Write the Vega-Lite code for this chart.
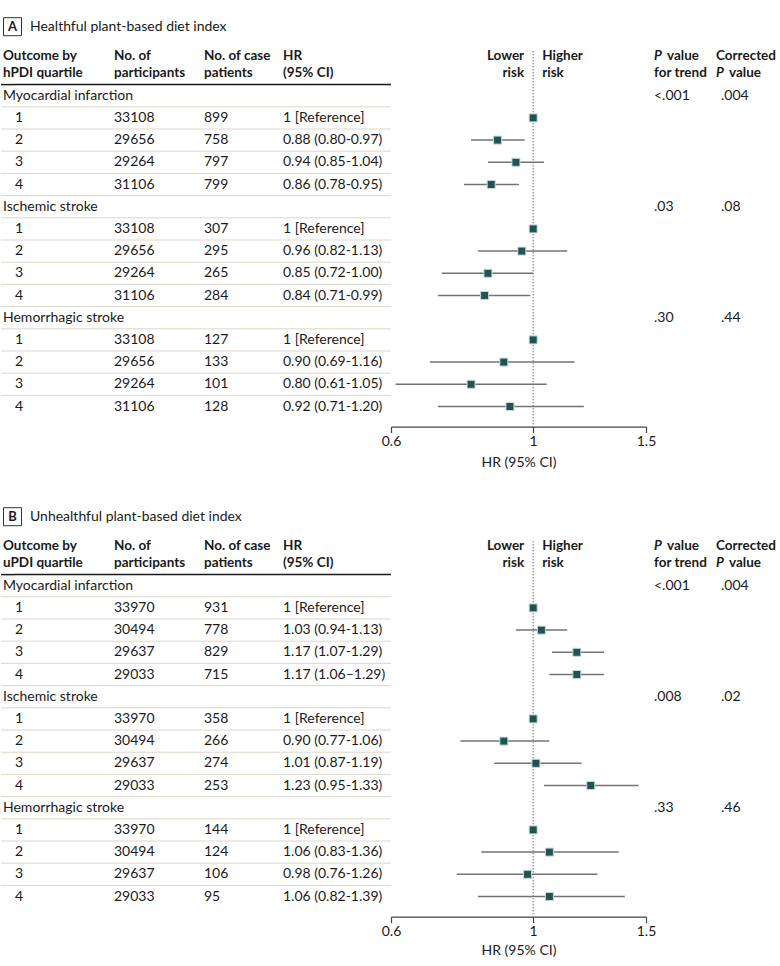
{
"$schema": "https://vega.github.io/schema/vega-lite/v6.json",
"padding": {"left": 0, "top": 15, "right": 0, "bottom": 0},
"background": "white",
"config": {"view": {"stroke": null}, "font": "Lato", "text": {"fontSize": 14, "color": "#1a1a1a", "baseline": "middle", "font": "Lato"}, "axis": {"labelFont": "Lato", "titleFont": "Lato"}},
"datasets": {
"titles": [
{"panel": "A", "row": -3, "letter": "A", "title": "Healthful plant-based diet index"},
{"panel": "B", "row": -3, "letter": "B", "title": "Unhealthful plant-based diet index"}
],
"heads": [
{"panel": "A", "row": -1, "outcome": "Outcome by\nhPDI quartile", "n": "No. of\nparticipants", "cases": "No. of case\npatients", "hr": "HR\n(95% CI)", "lower": "Lower\nrisk", "higher": "Higher\nrisk", "pItal": "P", "pWord": "value", "pLine2": "for trend", "pcLine1": "Corrected", "pcItal": "P", "pcWord": "value"},
{"panel": "B", "row": -1, "outcome": "Outcome by\nuPDI quartile", "n": "No. of\nparticipants", "cases": "No. of case\npatients", "hr": "HR\n(95% CI)", "lower": "Lower\nrisk", "higher": "Higher\nrisk", "pItal": "P", "pWord": "value", "pLine2": "for trend", "pcLine1": "Corrected", "pcItal": "P", "pcWord": "value"}
],
"body": [
{"panel": "A", "row": 0, "label": "Myocardial infarction", "p": "<.001", "pc": ".004"},
{"panel": "A", "row": 1, "q": "1", "n": "33108", "cases": "899", "hrtxt": "1 [Reference]", "hr": 1},
{"panel": "A", "row": 2, "q": "2", "n": "29656", "cases": "758", "hrtxt": "0.88 (0.80-0.97)", "hr": 0.88, "lo": 0.80, "hi": 0.97},
{"panel": "A", "row": 3, "q": "3", "n": "29264", "cases": "797", "hrtxt": "0.94 (0.85-1.04)", "hr": 0.94, "lo": 0.85, "hi": 1.04},
{"panel": "A", "row": 4, "q": "4", "n": "31106", "cases": "799", "hrtxt": "0.86 (0.78-0.95)", "hr": 0.86, "lo": 0.78, "hi": 0.95},
{"panel": "A", "row": 5, "label": "Ischemic stroke", "p": ".03", "pc": ".08"},
{"panel": "A", "row": 6, "q": "1", "n": "33108", "cases": "307", "hrtxt": "1 [Reference]", "hr": 1},
{"panel": "A", "row": 7, "q": "2", "n": "29656", "cases": "295", "hrtxt": "0.96 (0.82-1.13)", "hr": 0.96, "lo": 0.82, "hi": 1.13},
{"panel": "A", "row": 8, "q": "3", "n": "29264", "cases": "265", "hrtxt": "0.85 (0.72-1.00)", "hr": 0.85, "lo": 0.72, "hi": 1.00},
{"panel": "A", "row": 9, "q": "4", "n": "31106", "cases": "284", "hrtxt": "0.84 (0.71-0.99)", "hr": 0.84, "lo": 0.71, "hi": 0.99},
{"panel": "A", "row": 10, "label": "Hemorrhagic stroke", "p": ".30", "pc": ".44"},
{"panel": "A", "row": 11, "q": "1", "n": "33108", "cases": "127", "hrtxt": "1 [Reference]", "hr": 1},
{"panel": "A", "row": 12, "q": "2", "n": "29656", "cases": "133", "hrtxt": "0.90 (0.69-1.16)", "hr": 0.90, "lo": 0.69, "hi": 1.16},
{"panel": "A", "row": 13, "q": "3", "n": "29264", "cases": "101", "hrtxt": "0.80 (0.61-1.05)", "hr": 0.80, "lo": 0.61, "hi": 1.05},
{"panel": "A", "row": 14, "q": "4", "n": "31106", "cases": "128", "hrtxt": "0.92 (0.71-1.20)", "hr": 0.92, "lo": 0.71, "hi": 1.20},
{"panel": "B", "row": 0, "label": "Myocardial infarction", "p": "<.001", "pc": ".004"},
{"panel": "B", "row": 1, "q": "1", "n": "33970", "cases": "931", "hrtxt": "1 [Reference]", "hr": 1},
{"panel": "B", "row": 2, "q": "2", "n": "30494", "cases": "778", "hrtxt": "1.03 (0.94-1.13)", "hr": 1.03, "lo": 0.94, "hi": 1.13},
{"panel": "B", "row": 3, "q": "3", "n": "29637", "cases": "829", "hrtxt": "1.17 (1.07-1.29)", "hr": 1.17, "lo": 1.07, "hi": 1.29},
{"panel": "B", "row": 4, "q": "4", "n": "29033", "cases": "715", "hrtxt": "1.17 (1.06–1.29)", "hr": 1.17, "lo": 1.06, "hi": 1.29},
{"panel": "B", "row": 5, "label": "Ischemic stroke", "p": ".008", "pc": ".02"},
{"panel": "B", "row": 6, "q": "1", "n": "33970", "cases": "358", "hrtxt": "1 [Reference]", "hr": 1},
{"panel": "B", "row": 7, "q": "2", "n": "30494", "cases": "266", "hrtxt": "0.90 (0.77-1.06)", "hr": 0.90, "lo": 0.77, "hi": 1.06},
{"panel": "B", "row": 8, "q": "3", "n": "29637", "cases": "274", "hrtxt": "1.01 (0.87-1.19)", "hr": 1.01, "lo": 0.87, "hi": 1.19},
{"panel": "B", "row": 9, "q": "4", "n": "29033", "cases": "253", "hrtxt": "1.23 (0.95-1.33)", "hr": 1.23, "lo": 1.04, "hi": 1.46},
{"panel": "B", "row": 10, "label": "Hemorrhagic stroke", "p": ".33", "pc": ".46"},
{"panel": "B", "row": 11, "q": "1", "n": "33970", "cases": "144", "hrtxt": "1 [Reference]", "hr": 1},
{"panel": "B", "row": 12, "q": "2", "n": "30494", "cases": "124", "hrtxt": "1.06 (0.83-1.36)", "hr": 1.06, "lo": 0.83, "hi": 1.36},
{"panel": "B", "row": 13, "q": "3", "n": "29637", "cases": "106", "hrtxt": "0.98 (0.76-1.26)", "hr": 0.98, "lo": 0.76, "hi": 1.26},
{"panel": "B", "row": 14, "q": "4", "n": "29033", "cases": "95", "hrtxt": "1.06 (0.82-1.39)", "hr": 1.06, "lo": 0.82, "hi": 1.39}
]
},
"spacing": 35,
"vconcat": [
{"bounds": "flush", "spacing": 0, "hconcat": [
{"width": 14, "height": 408.6,
 "encoding": {"y": {"field": "row", "type": "ordinal", "axis": null, "scale": {"type": "band", "domain": [-3,-2,-1,0,1,2,3,4,5,6,7,8,9,10,11,12,13,14], "range": [0, 399.6], "paddingInner": 0, "paddingOuter": 0}}},
 "layer": [
  {"data": {"name": "titles"}, "transform": [{"filter": "datum.panel == 'A'"}], "mark": {"type": "point", "shape": "square", "size": 324, "filled": false, "stroke": "#333333", "strokeWidth": 1, "opacity": 1, "xOffset": 11.5, "yOffset": -2.4}, "encoding": {"x": {"datum": 0, "type": "quantitative", "scale": {"domain": [0, 1]}, "axis": null}}},
  {"data": {"name": "titles"}, "transform": [{"filter": "datum.panel == 'A'"}], "mark": {"type": "text", "align": "center", "dx": 11.5, "dy": -2.4, "fontWeight": "bold", "fontSize": 13}, "encoding": {"x": {"datum": 0, "type": "quantitative", "scale": {"domain": [0, 1]}, "axis": null}, "text": {"field": "letter"}}},
  {"data": {"name": "titles"}, "transform": [{"filter": "datum.panel == 'A'"}], "mark": {"type": "text", "align": "left", "dx": 29, "dy": -2.4, "fontSize": 14}, "encoding": {"x": {"datum": 0, "type": "quantitative", "scale": {"domain": [0, 1]}, "axis": null}, "text": {"field": "title"}}},
  {"data": {"name": "heads"}, "transform": [{"filter": "datum.panel == 'A'"}], "mark": {"type": "text", "align": "left", "dx": 2, "dy": -17.8, "fontWeight": "bold", "fontSize": 13.5, "lineBreak": "\n", "lineHeight": 17}, "encoding": {"x": {"datum": 0, "type": "quantitative", "scale": {"domain": [0, 1]}, "axis": null}, "text": {"field": "outcome"}}},
  {"data": {"name": "heads"}, "transform": [{"filter": "datum.panel == 'A'"}], "mark": {"type": "rule", "color": "#1a1a1a", "strokeWidth": 1.5}, "encoding": {"y": {"field": "row", "type": "ordinal", "bandPosition": 1, "axis": null}}},
  {"data": {"name": "body"}, "transform": [{"filter": "datum.panel == 'A' && datum.row < 14"}], "mark": {"type": "rule", "color": "#dcd7c9", "strokeWidth": 1}, "encoding": {"y": {"field": "row", "type": "ordinal", "bandPosition": 1, "axis": null}}},
  {"data": {"name": "body"}, "transform": [{"filter": "datum.panel == 'A' && isValid(datum.label)"}], "mark": {"type": "text", "align": "left", "dx": 2}, "encoding": {"x": {"datum": 0, "type": "quantitative", "scale": {"domain": [0, 1]}, "axis": null}, "text": {"field": "label"}}}
 ]},
{"width": 99, "height": 408.6,
 "encoding": {"y": {"field": "row", "type": "ordinal", "axis": null, "scale": {"type": "band", "domain": [-3,-2,-1,0,1,2,3,4,5,6,7,8,9,10,11,12,13,14], "range": [0, 399.6], "paddingInner": 0, "paddingOuter": 0}}},
 "layer": [
  {"data": {"name": "heads"}, "transform": [{"filter": "datum.panel == 'A'"}], "mark": {"type": "rule", "color": "#1a1a1a", "strokeWidth": 1.5}, "encoding": {"y": {"field": "row", "type": "ordinal", "bandPosition": 1, "axis": null}}},
  {"data": {"name": "body"}, "transform": [{"filter": "datum.panel == 'A' && datum.row < 14"}], "mark": {"type": "rule", "color": "#dcd7c9", "strokeWidth": 1}, "encoding": {"y": {"field": "row", "type": "ordinal", "bandPosition": 1, "axis": null}}},
  {"data": {"name": "body"}, "transform": [{"filter": "datum.panel == 'A' && isValid(datum.q)"}], "mark": {"type": "text", "align": "left"}, "encoding": {"x": {"datum": 0, "type": "quantitative", "scale": {"domain": [0, 1]}, "axis": null}, "text": {"field": "q"}}}
 ]},
{"width": 90, "height": 408.6,
 "encoding": {"y": {"field": "row", "type": "ordinal", "axis": null, "scale": {"type": "band", "domain": [-3,-2,-1,0,1,2,3,4,5,6,7,8,9,10,11,12,13,14], "range": [0, 399.6], "paddingInner": 0, "paddingOuter": 0}}},
 "layer": [
  {"data": {"name": "heads"}, "transform": [{"filter": "datum.panel == 'A'"}], "mark": {"type": "text", "align": "left", "dy": -17.8, "fontWeight": "bold", "fontSize": 13.5, "lineBreak": "\n", "lineHeight": 17}, "encoding": {"x": {"datum": 0, "type": "quantitative", "scale": {"domain": [0, 1]}, "axis": null}, "text": {"field": "n"}}},
  {"data": {"name": "heads"}, "transform": [{"filter": "datum.panel == 'A'"}], "mark": {"type": "rule", "color": "#1a1a1a", "strokeWidth": 1.5}, "encoding": {"y": {"field": "row", "type": "ordinal", "bandPosition": 1, "axis": null}}},
  {"data": {"name": "body"}, "transform": [{"filter": "datum.panel == 'A' && datum.row < 14"}], "mark": {"type": "rule", "color": "#dcd7c9", "strokeWidth": 1}, "encoding": {"y": {"field": "row", "type": "ordinal", "bandPosition": 1, "axis": null}}},
  {"data": {"name": "body"}, "transform": [{"filter": "datum.panel == 'A' && isValid(datum.n)"}], "mark": {"type": "text", "align": "left"}, "encoding": {"x": {"datum": 0, "type": "quantitative", "scale": {"domain": [0, 1]}, "axis": null}, "text": {"field": "n"}}}
 ]},
{"width": 79, "height": 408.6,
 "encoding": {"y": {"field": "row", "type": "ordinal", "axis": null, "scale": {"type": "band", "domain": [-3,-2,-1,0,1,2,3,4,5,6,7,8,9,10,11,12,13,14], "range": [0, 399.6], "paddingInner": 0, "paddingOuter": 0}}},
 "layer": [
  {"data": {"name": "heads"}, "transform": [{"filter": "datum.panel == 'A'"}], "mark": {"type": "text", "align": "left", "dy": -17.8, "fontWeight": "bold", "fontSize": 13.5, "lineBreak": "\n", "lineHeight": 17}, "encoding": {"x": {"datum": 0, "type": "quantitative", "scale": {"domain": [0, 1]}, "axis": null}, "text": {"field": "cases"}}},
  {"data": {"name": "heads"}, "transform": [{"filter": "datum.panel == 'A'"}], "mark": {"type": "rule", "color": "#1a1a1a", "strokeWidth": 1.5}, "encoding": {"y": {"field": "row", "type": "ordinal", "bandPosition": 1, "axis": null}}},
  {"data": {"name": "body"}, "transform": [{"filter": "datum.panel == 'A' && datum.row < 14"}], "mark": {"type": "rule", "color": "#dcd7c9", "strokeWidth": 1}, "encoding": {"y": {"field": "row", "type": "ordinal", "bandPosition": 1, "axis": null}}},
  {"data": {"name": "body"}, "transform": [{"filter": "datum.panel == 'A' && isValid(datum.cases)"}], "mark": {"type": "text", "align": "left"}, "encoding": {"x": {"datum": 0, "type": "quantitative", "scale": {"domain": [0, 1]}, "axis": null}, "text": {"field": "cases"}}}
 ]},
{"width": 108, "height": 408.6,
 "encoding": {"y": {"field": "row", "type": "ordinal", "axis": null, "scale": {"type": "band", "domain": [-3,-2,-1,0,1,2,3,4,5,6,7,8,9,10,11,12,13,14], "range": [0, 399.6], "paddingInner": 0, "paddingOuter": 0}}},
 "layer": [
  {"data": {"name": "heads"}, "transform": [{"filter": "datum.panel == 'A'"}], "mark": {"type": "text", "align": "left", "dy": -17.8, "fontWeight": "bold", "fontSize": 13.5, "lineBreak": "\n", "lineHeight": 17}, "encoding": {"x": {"datum": 0, "type": "quantitative", "scale": {"domain": [0, 1]}, "axis": null}, "text": {"field": "hr"}}},
  {"data": {"name": "heads"}, "transform": [{"filter": "datum.panel == 'A'"}], "mark": {"type": "rule", "color": "#1a1a1a", "strokeWidth": 1.5}, "encoding": {"y": {"field": "row", "type": "ordinal", "bandPosition": 1, "axis": null}}},
  {"data": {"name": "body"}, "transform": [{"filter": "datum.panel == 'A' && datum.row < 14"}], "mark": {"type": "rule", "color": "#dcd7c9", "strokeWidth": 1}, "encoding": {"y": {"field": "row", "type": "ordinal", "bandPosition": 1, "axis": null}}},
  {"data": {"name": "body"}, "transform": [{"filter": "datum.panel == 'A' && isValid(datum.hrtxt)"}], "mark": {"type": "text", "align": "left"}, "encoding": {"x": {"datum": 0, "type": "quantitative", "scale": {"domain": [0, 1]}, "axis": null}, "text": {"field": "hrtxt"}}}
 ]},
{"width": 255, "height": 408.6,
 "encoding": {"y": {"field": "row", "type": "ordinal", "axis": null, "scale": {"type": "band", "domain": [-3,-2,-1,0,1,2,3,4,5,6,7,8,9,10,11,12,13,14], "range": [0, 399.6], "paddingInner": 0, "paddingOuter": 0}}},
 "layer": [
  {"data": {"name": "heads"}, "transform": [{"filter": "datum.panel == 'A'"}], "mark": {"type": "text", "align": "right", "dx": -9, "dy": -17.8, "fontWeight": "bold", "fontSize": 13.5, "lineBreak": "\n", "lineHeight": 17}, "encoding": {"x": {"datum": 1, "type": "quantitative", "scale": {"type": "log", "domain": [0.6, 1.5], "nice": false, "zero": false}, "axis": {"values": [0.6, 1, 1.5], "format": "~g", "title": "HR (95% CI)", "grid": false, "domainColor": "#444444", "domainWidth": 1.2, "tickColor": "#444444", "tickSize": 6, "tickWidth": 1.2, "labelFontSize": 14, "titleFontSize": 14, "titleFontWeight": "normal", "labelColor": "#1a1a1a", "titleColor": "#1a1a1a", "labelPadding": 2, "titlePadding": 7, "labelFlush": false, "labelOverlap": false}}, "text": {"field": "lower"}}},
  {"data": {"name": "heads"}, "transform": [{"filter": "datum.panel == 'A'"}], "mark": {"type": "text", "align": "left", "dx": 9, "dy": -17.8, "fontWeight": "bold", "fontSize": 13.5, "lineBreak": "\n", "lineHeight": 17}, "encoding": {"x": {"datum": 1, "type": "quantitative"}, "text": {"field": "higher"}}},
  {"data": {"name": "heads"}, "transform": [{"filter": "datum.panel == 'A'"}], "mark": {"type": "rule", "color": "#333333", "strokeWidth": 1, "strokeDash": [1, 2]}, "encoding": {"x": {"datum": 1, "type": "quantitative"}, "y": {"datum": -2, "type": "ordinal"}, "y2": {"value": "height"}}},
  {"data": {"name": "body"}, "transform": [{"filter": "datum.panel == 'A' && isValid(datum.lo)"}], "mark": {"type": "rule", "color": "#737373", "strokeWidth": 1.5}, "encoding": {"x": {"field": "lo", "type": "quantitative"}, "x2": {"field": "hi"}}},
  {"data": {"name": "body"}, "transform": [{"filter": "datum.panel == 'A' && isValid(datum.hr)"}], "mark": {"type": "point", "shape": "square", "filled": true, "size": 64, "color": "#1f5451", "stroke": "#c9d8d5", "strokeWidth": 1, "opacity": 1}, "encoding": {"x": {"field": "hr", "type": "quantitative"}}}
 ]},
{"width": 75, "height": 408.6,
 "encoding": {"y": {"field": "row", "type": "ordinal", "axis": null, "scale": {"type": "band", "domain": [-3,-2,-1,0,1,2,3,4,5,6,7,8,9,10,11,12,13,14], "range": [0, 399.6], "paddingInner": 0, "paddingOuter": 0}}},
 "layer": [
  {"data": {"name": "heads"}, "transform": [{"filter": "datum.panel == 'A'"}], "mark": {"type": "text", "align": "left", "dx": 8, "dy": -17.8, "fontWeight": "bold", "fontSize": 13.5, "fontStyle": "italic"}, "encoding": {"x": {"datum": 0, "type": "quantitative", "scale": {"domain": [0, 1]}, "axis": null}, "text": {"field": "pItal"}}},
  {"data": {"name": "heads"}, "transform": [{"filter": "datum.panel == 'A'"}], "mark": {"type": "text", "align": "left", "dx": 21, "dy": -17.8, "fontWeight": "bold", "fontSize": 13.5}, "encoding": {"x": {"datum": 0, "type": "quantitative", "scale": {"domain": [0, 1]}, "axis": null}, "text": {"field": "pWord"}}},
  {"data": {"name": "heads"}, "transform": [{"filter": "datum.panel == 'A'"}], "mark": {"type": "text", "align": "left", "dx": 8, "dy": -0.8, "fontWeight": "bold", "fontSize": 13.5}, "encoding": {"x": {"datum": 0, "type": "quantitative", "scale": {"domain": [0, 1]}, "axis": null}, "text": {"field": "pLine2"}}},
  {"data": {"name": "body"}, "transform": [{"filter": "datum.panel == 'A' && isValid(datum.p)"}], "mark": {"type": "text", "align": "left", "dx": 8}, "encoding": {"x": {"datum": 0, "type": "quantitative", "scale": {"domain": [0, 1]}, "axis": null}, "text": {"field": "p"}}}
 ]},
{"width": 60, "height": 408.6,
 "encoding": {"y": {"field": "row", "type": "ordinal", "axis": null, "scale": {"type": "band", "domain": [-3,-2,-1,0,1,2,3,4,5,6,7,8,9,10,11,12,13,14], "range": [0, 399.6], "paddingInner": 0, "paddingOuter": 0}}},
 "layer": [
  {"data": {"name": "heads"}, "transform": [{"filter": "datum.panel == 'A'"}], "mark": {"type": "text", "align": "left", "dx": -5, "dy": -17.8, "fontWeight": "bold", "fontSize": 13.5}, "encoding": {"x": {"datum": 0, "type": "quantitative", "scale": {"domain": [0, 1]}, "axis": null}, "text": {"field": "pcLine1"}}},
  {"data": {"name": "heads"}, "transform": [{"filter": "datum.panel == 'A'"}], "mark": {"type": "text", "align": "left", "dx": -5, "dy": -0.8, "fontWeight": "bold", "fontSize": 13.5, "fontStyle": "italic"}, "encoding": {"x": {"datum": 0, "type": "quantitative", "scale": {"domain": [0, 1]}, "axis": null}, "text": {"field": "pcItal"}}},
  {"data": {"name": "heads"}, "transform": [{"filter": "datum.panel == 'A'"}], "mark": {"type": "text", "align": "left", "dx": 8, "dy": -0.8, "fontWeight": "bold", "fontSize": 13.5}, "encoding": {"x": {"datum": 0, "type": "quantitative", "scale": {"domain": [0, 1]}, "axis": null}, "text": {"field": "pcWord"}}},
  {"data": {"name": "body"}, "transform": [{"filter": "datum.panel == 'A' && isValid(datum.pc)"}], "mark": {"type": "text", "align": "left"}, "encoding": {"x": {"datum": 0, "type": "quantitative", "scale": {"domain": [0, 1]}, "axis": null}, "text": {"field": "pc"}}}
 ]}
]},
{"bounds": "flush", "spacing": 0, "hconcat": [
{"width": 14, "height": 408.6,
 "encoding": {"y": {"field": "row", "type": "ordinal", "axis": null, "scale": {"type": "band", "domain": [-3,-2,-1,0,1,2,3,4,5,6,7,8,9,10,11,12,13,14], "range": [0, 399.6], "paddingInner": 0, "paddingOuter": 0}}},
 "layer": [
  {"data": {"name": "titles"}, "transform": [{"filter": "datum.panel == 'B'"}], "mark": {"type": "point", "shape": "square", "size": 324, "filled": false, "stroke": "#333333", "strokeWidth": 1, "opacity": 1, "xOffset": 11.5, "yOffset": -2.4}, "encoding": {"x": {"datum": 0, "type": "quantitative", "scale": {"domain": [0, 1]}, "axis": null}}},
  {"data": {"name": "titles"}, "transform": [{"filter": "datum.panel == 'B'"}], "mark": {"type": "text", "align": "center", "dx": 11.5, "dy": -2.4, "fontWeight": "bold", "fontSize": 13}, "encoding": {"x": {"datum": 0, "type": "quantitative", "scale": {"domain": [0, 1]}, "axis": null}, "text": {"field": "letter"}}},
  {"data": {"name": "titles"}, "transform": [{"filter": "datum.panel == 'B'"}], "mark": {"type": "text", "align": "left", "dx": 29, "dy": -2.4, "fontSize": 14}, "encoding": {"x": {"datum": 0, "type": "quantitative", "scale": {"domain": [0, 1]}, "axis": null}, "text": {"field": "title"}}},
  {"data": {"name": "heads"}, "transform": [{"filter": "datum.panel == 'B'"}], "mark": {"type": "text", "align": "left", "dx": 2, "dy": -17.8, "fontWeight": "bold", "fontSize": 13.5, "lineBreak": "\n", "lineHeight": 17}, "encoding": {"x": {"datum": 0, "type": "quantitative", "scale": {"domain": [0, 1]}, "axis": null}, "text": {"field": "outcome"}}},
  {"data": {"name": "heads"}, "transform": [{"filter": "datum.panel == 'B'"}], "mark": {"type": "rule", "color": "#1a1a1a", "strokeWidth": 1.5}, "encoding": {"y": {"field": "row", "type": "ordinal", "bandPosition": 1, "axis": null}}},
  {"data": {"name": "body"}, "transform": [{"filter": "datum.panel == 'B' && datum.row < 14"}], "mark": {"type": "rule", "color": "#dcd7c9", "strokeWidth": 1}, "encoding": {"y": {"field": "row", "type": "ordinal", "bandPosition": 1, "axis": null}}},
  {"data": {"name": "body"}, "transform": [{"filter": "datum.panel == 'B' && isValid(datum.label)"}], "mark": {"type": "text", "align": "left", "dx": 2}, "encoding": {"x": {"datum": 0, "type": "quantitative", "scale": {"domain": [0, 1]}, "axis": null}, "text": {"field": "label"}}}
 ]},
{"width": 99, "height": 408.6,
 "encoding": {"y": {"field": "row", "type": "ordinal", "axis": null, "scale": {"type": "band", "domain": [-3,-2,-1,0,1,2,3,4,5,6,7,8,9,10,11,12,13,14], "range": [0, 399.6], "paddingInner": 0, "paddingOuter": 0}}},
 "layer": [
  {"data": {"name": "heads"}, "transform": [{"filter": "datum.panel == 'B'"}], "mark": {"type": "rule", "color": "#1a1a1a", "strokeWidth": 1.5}, "encoding": {"y": {"field": "row", "type": "ordinal", "bandPosition": 1, "axis": null}}},
  {"data": {"name": "body"}, "transform": [{"filter": "datum.panel == 'B' && datum.row < 14"}], "mark": {"type": "rule", "color": "#dcd7c9", "strokeWidth": 1}, "encoding": {"y": {"field": "row", "type": "ordinal", "bandPosition": 1, "axis": null}}},
  {"data": {"name": "body"}, "transform": [{"filter": "datum.panel == 'B' && isValid(datum.q)"}], "mark": {"type": "text", "align": "left"}, "encoding": {"x": {"datum": 0, "type": "quantitative", "scale": {"domain": [0, 1]}, "axis": null}, "text": {"field": "q"}}}
 ]},
{"width": 90, "height": 408.6,
 "encoding": {"y": {"field": "row", "type": "ordinal", "axis": null, "scale": {"type": "band", "domain": [-3,-2,-1,0,1,2,3,4,5,6,7,8,9,10,11,12,13,14], "range": [0, 399.6], "paddingInner": 0, "paddingOuter": 0}}},
 "layer": [
  {"data": {"name": "heads"}, "transform": [{"filter": "datum.panel == 'B'"}], "mark": {"type": "text", "align": "left", "dy": -17.8, "fontWeight": "bold", "fontSize": 13.5, "lineBreak": "\n", "lineHeight": 17}, "encoding": {"x": {"datum": 0, "type": "quantitative", "scale": {"domain": [0, 1]}, "axis": null}, "text": {"field": "n"}}},
  {"data": {"name": "heads"}, "transform": [{"filter": "datum.panel == 'B'"}], "mark": {"type": "rule", "color": "#1a1a1a", "strokeWidth": 1.5}, "encoding": {"y": {"field": "row", "type": "ordinal", "bandPosition": 1, "axis": null}}},
  {"data": {"name": "body"}, "transform": [{"filter": "datum.panel == 'B' && datum.row < 14"}], "mark": {"type": "rule", "color": "#dcd7c9", "strokeWidth": 1}, "encoding": {"y": {"field": "row", "type": "ordinal", "bandPosition": 1, "axis": null}}},
  {"data": {"name": "body"}, "transform": [{"filter": "datum.panel == 'B' && isValid(datum.n)"}], "mark": {"type": "text", "align": "left"}, "encoding": {"x": {"datum": 0, "type": "quantitative", "scale": {"domain": [0, 1]}, "axis": null}, "text": {"field": "n"}}}
 ]},
{"width": 79, "height": 408.6,
 "encoding": {"y": {"field": "row", "type": "ordinal", "axis": null, "scale": {"type": "band", "domain": [-3,-2,-1,0,1,2,3,4,5,6,7,8,9,10,11,12,13,14], "range": [0, 399.6], "paddingInner": 0, "paddingOuter": 0}}},
 "layer": [
  {"data": {"name": "heads"}, "transform": [{"filter": "datum.panel == 'B'"}], "mark": {"type": "text", "align": "left", "dy": -17.8, "fontWeight": "bold", "fontSize": 13.5, "lineBreak": "\n", "lineHeight": 17}, "encoding": {"x": {"datum": 0, "type": "quantitative", "scale": {"domain": [0, 1]}, "axis": null}, "text": {"field": "cases"}}},
  {"data": {"name": "heads"}, "transform": [{"filter": "datum.panel == 'B'"}], "mark": {"type": "rule", "color": "#1a1a1a", "strokeWidth": 1.5}, "encoding": {"y": {"field": "row", "type": "ordinal", "bandPosition": 1, "axis": null}}},
  {"data": {"name": "body"}, "transform": [{"filter": "datum.panel == 'B' && datum.row < 14"}], "mark": {"type": "rule", "color": "#dcd7c9", "strokeWidth": 1}, "encoding": {"y": {"field": "row", "type": "ordinal", "bandPosition": 1, "axis": null}}},
  {"data": {"name": "body"}, "transform": [{"filter": "datum.panel == 'B' && isValid(datum.cases)"}], "mark": {"type": "text", "align": "left"}, "encoding": {"x": {"datum": 0, "type": "quantitative", "scale": {"domain": [0, 1]}, "axis": null}, "text": {"field": "cases"}}}
 ]},
{"width": 108, "height": 408.6,
 "encoding": {"y": {"field": "row", "type": "ordinal", "axis": null, "scale": {"type": "band", "domain": [-3,-2,-1,0,1,2,3,4,5,6,7,8,9,10,11,12,13,14], "range": [0, 399.6], "paddingInner": 0, "paddingOuter": 0}}},
 "layer": [
  {"data": {"name": "heads"}, "transform": [{"filter": "datum.panel == 'B'"}], "mark": {"type": "text", "align": "left", "dy": -17.8, "fontWeight": "bold", "fontSize": 13.5, "lineBreak": "\n", "lineHeight": 17}, "encoding": {"x": {"datum": 0, "type": "quantitative", "scale": {"domain": [0, 1]}, "axis": null}, "text": {"field": "hr"}}},
  {"data": {"name": "heads"}, "transform": [{"filter": "datum.panel == 'B'"}], "mark": {"type": "rule", "color": "#1a1a1a", "strokeWidth": 1.5}, "encoding": {"y": {"field": "row", "type": "ordinal", "bandPosition": 1, "axis": null}}},
  {"data": {"name": "body"}, "transform": [{"filter": "datum.panel == 'B' && datum.row < 14"}], "mark": {"type": "rule", "color": "#dcd7c9", "strokeWidth": 1}, "encoding": {"y": {"field": "row", "type": "ordinal", "bandPosition": 1, "axis": null}}},
  {"data": {"name": "body"}, "transform": [{"filter": "datum.panel == 'B' && isValid(datum.hrtxt)"}], "mark": {"type": "text", "align": "left"}, "encoding": {"x": {"datum": 0, "type": "quantitative", "scale": {"domain": [0, 1]}, "axis": null}, "text": {"field": "hrtxt"}}}
 ]},
{"width": 255, "height": 408.6,
 "encoding": {"y": {"field": "row", "type": "ordinal", "axis": null, "scale": {"type": "band", "domain": [-3,-2,-1,0,1,2,3,4,5,6,7,8,9,10,11,12,13,14], "range": [0, 399.6], "paddingInner": 0, "paddingOuter": 0}}},
 "layer": [
  {"data": {"name": "heads"}, "transform": [{"filter": "datum.panel == 'B'"}], "mark": {"type": "text", "align": "right", "dx": -9, "dy": -17.8, "fontWeight": "bold", "fontSize": 13.5, "lineBreak": "\n", "lineHeight": 17}, "encoding": {"x": {"datum": 1, "type": "quantitative", "scale": {"type": "log", "domain": [0.6, 1.5], "nice": false, "zero": false}, "axis": {"values": [0.6, 1, 1.5], "format": "~g", "title": "HR (95% CI)", "grid": false, "domainColor": "#444444", "domainWidth": 1.2, "tickColor": "#444444", "tickSize": 6, "tickWidth": 1.2, "labelFontSize": 14, "titleFontSize": 14, "titleFontWeight": "normal", "labelColor": "#1a1a1a", "titleColor": "#1a1a1a", "labelPadding": 2, "titlePadding": 5, "labelFlush": false, "labelOverlap": false}}, "text": {"field": "lower"}}},
  {"data": {"name": "heads"}, "transform": [{"filter": "datum.panel == 'B'"}], "mark": {"type": "text", "align": "left", "dx": 9, "dy": -17.8, "fontWeight": "bold", "fontSize": 13.5, "lineBreak": "\n", "lineHeight": 17}, "encoding": {"x": {"datum": 1, "type": "quantitative"}, "text": {"field": "higher"}}},
  {"data": {"name": "heads"}, "transform": [{"filter": "datum.panel == 'B'"}], "mark": {"type": "rule", "color": "#333333", "strokeWidth": 1, "strokeDash": [1, 2]}, "encoding": {"x": {"datum": 1, "type": "quantitative"}, "y": {"datum": -2, "type": "ordinal"}, "y2": {"value": "height"}}},
  {"data": {"name": "body"}, "transform": [{"filter": "datum.panel == 'B' && isValid(datum.lo)"}], "mark": {"type": "rule", "color": "#737373", "strokeWidth": 1.5}, "encoding": {"x": {"field": "lo", "type": "quantitative"}, "x2": {"field": "hi"}}},
  {"data": {"name": "body"}, "transform": [{"filter": "datum.panel == 'B' && isValid(datum.hr)"}], "mark": {"type": "point", "shape": "square", "filled": true, "size": 64, "color": "#1f5451", "stroke": "#c9d8d5", "strokeWidth": 1, "opacity": 1}, "encoding": {"x": {"field": "hr", "type": "quantitative"}}}
 ]},
{"width": 75, "height": 408.6,
 "encoding": {"y": {"field": "row", "type": "ordinal", "axis": null, "scale": {"type": "band", "domain": [-3,-2,-1,0,1,2,3,4,5,6,7,8,9,10,11,12,13,14], "range": [0, 399.6], "paddingInner": 0, "paddingOuter": 0}}},
 "layer": [
  {"data": {"name": "heads"}, "transform": [{"filter": "datum.panel == 'B'"}], "mark": {"type": "text", "align": "left", "dx": 8, "dy": -17.8, "fontWeight": "bold", "fontSize": 13.5, "fontStyle": "italic"}, "encoding": {"x": {"datum": 0, "type": "quantitative", "scale": {"domain": [0, 1]}, "axis": null}, "text": {"field": "pItal"}}},
  {"data": {"name": "heads"}, "transform": [{"filter": "datum.panel == 'B'"}], "mark": {"type": "text", "align": "left", "dx": 21, "dy": -17.8, "fontWeight": "bold", "fontSize": 13.5}, "encoding": {"x": {"datum": 0, "type": "quantitative", "scale": {"domain": [0, 1]}, "axis": null}, "text": {"field": "pWord"}}},
  {"data": {"name": "heads"}, "transform": [{"filter": "datum.panel == 'B'"}], "mark": {"type": "text", "align": "left", "dx": 8, "dy": -0.8, "fontWeight": "bold", "fontSize": 13.5}, "encoding": {"x": {"datum": 0, "type": "quantitative", "scale": {"domain": [0, 1]}, "axis": null}, "text": {"field": "pLine2"}}},
  {"data": {"name": "body"}, "transform": [{"filter": "datum.panel == 'B' && isValid(datum.p)"}], "mark": {"type": "text", "align": "left", "dx": 8}, "encoding": {"x": {"datum": 0, "type": "quantitative", "scale": {"domain": [0, 1]}, "axis": null}, "text": {"field": "p"}}}
 ]},
{"width": 60, "height": 408.6,
 "encoding": {"y": {"field": "row", "type": "ordinal", "axis": null, "scale": {"type": "band", "domain": [-3,-2,-1,0,1,2,3,4,5,6,7,8,9,10,11,12,13,14], "range": [0, 399.6], "paddingInner": 0, "paddingOuter": 0}}},
 "layer": [
  {"data": {"name": "heads"}, "transform": [{"filter": "datum.panel == 'B'"}], "mark": {"type": "text", "align": "left", "dx": -5, "dy": -17.8, "fontWeight": "bold", "fontSize": 13.5}, "encoding": {"x": {"datum": 0, "type": "quantitative", "scale": {"domain": [0, 1]}, "axis": null}, "text": {"field": "pcLine1"}}},
  {"data": {"name": "heads"}, "transform": [{"filter": "datum.panel == 'B'"}], "mark": {"type": "text", "align": "left", "dx": -5, "dy": -0.8, "fontWeight": "bold", "fontSize": 13.5, "fontStyle": "italic"}, "encoding": {"x": {"datum": 0, "type": "quantitative", "scale": {"domain": [0, 1]}, "axis": null}, "text": {"field": "pcItal"}}},
  {"data": {"name": "heads"}, "transform": [{"filter": "datum.panel == 'B'"}], "mark": {"type": "text", "align": "left", "dx": 8, "dy": -0.8, "fontWeight": "bold", "fontSize": 13.5}, "encoding": {"x": {"datum": 0, "type": "quantitative", "scale": {"domain": [0, 1]}, "axis": null}, "text": {"field": "pcWord"}}},
  {"data": {"name": "body"}, "transform": [{"filter": "datum.panel == 'B' && isValid(datum.pc)"}], "mark": {"type": "text", "align": "left"}, "encoding": {"x": {"datum": 0, "type": "quantitative", "scale": {"domain": [0, 1]}, "axis": null}, "text": {"field": "pc"}}}
 ]}
]}
]
}
